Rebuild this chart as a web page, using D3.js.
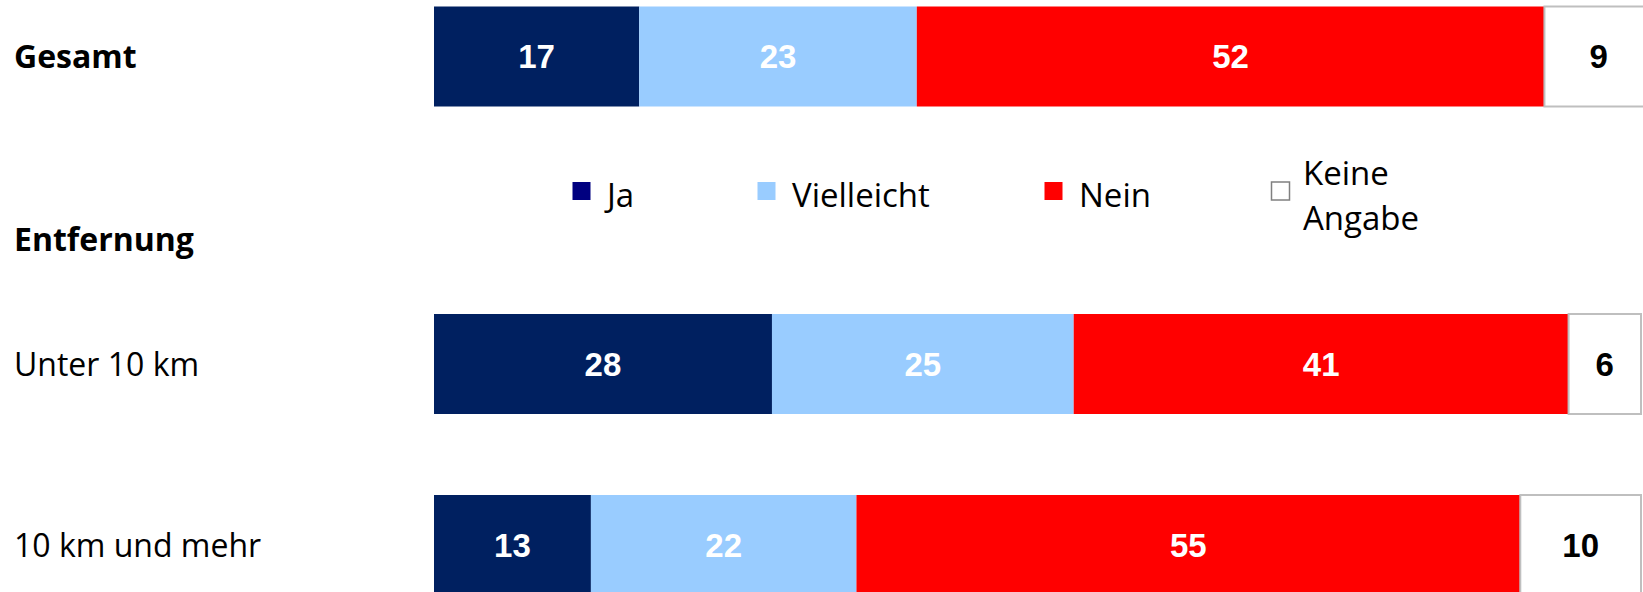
<!DOCTYPE html>
<html>
<head>
<meta charset="utf-8">
<script src="https://cdn.jsdelivr.net/npm/d3@7"></script>
<style>
  body { margin: 0; background: #fff; }
  svg { display: block; }
</style>
</head>
<body>
<div id="chart"></div>
<script>
// data
const rows = ["Gesamt", "Unter 10 km", "10 km und mehr"];
const series = ["Ja", "Vielleicht", "Nein", "Keine Angabe"];
const ja = [17, 28, 13];
const vielleicht = [23, 25, 22];
const nein = [52, 41, 55];
const keineAngabe = [9, 6, 10];
const groupHeader = "Entfernung";

/* layout */
const width = 1643, height = 592;
const barLeft = 434, barRight = 1641;
const barH = 100;
const rowCenters = [56.5, 364, 545];
const headerY = 251;
const legendX = [572, 757, 1044, 1271];
const legendY = 191;

const colors = ["#002060", "#99CCFF", "#FF0000", "#FFFFFF"];
const legendColors = ["#000080", "#99CCFF", "#FF0000", "#FFFFFF"];
const textColors = ["#fff", "#fff", "#fff", "#000"];

const table = rows.map((r, i) => ({
  row: r, Ja: ja[i], Vielleicht: vielleicht[i], Nein: nein[i], "Keine Angabe": keineAngabe[i]
}));
const stacked = d3.stack().keys(series)(table);

const x = d3.scaleLinear().domain([0, 100]).range([barLeft, barRight]);
const y = d3.scaleOrdinal().domain(rows).range(rowCenters);
const color = d3.scaleOrdinal().domain(series).range(colors);

const svg = d3.select("#chart").append("svg")
  .attr("width", width)
  .attr("height", height);

// row labels
svg.selectAll(".row-label")
  .data(rows)
  .join("text")
  .attr("class", "row-label")
  .attr("x", 14)
  .attr("y", d => y(d))
  .attr("dy", "0.36em")
  .attr("font-family", "'Open Sans', sans-serif")
  .attr("font-size", 32)
  .attr("font-weight", (d, i) => i === 0 ? "bold" : "normal")
  .attr("fill", "#000")
  .text(d => d);

svg.append("text")
  .attr("x", 14)
  .attr("y", headerY)
  .attr("font-family", "'Open Sans', sans-serif")
  .attr("font-size", 32)
  .attr("font-weight", "bold")
  .text(groupHeader);

// bars
const layer = svg.selectAll(".layer")
  .data(stacked)
  .join("g")
  .attr("class", "layer");

layer.selectAll("rect")
  .data(d => d.map(p => ({ key: d.key, p })))
  .join("rect")
  .attr("x", d => x(d.p[0]))
  .attr("y", d => y(d.p.data.row) - barH / 2)
  .attr("width", d => x(d.p[1]) - x(d.p[0]))
  .attr("height", barH)
  .attr("fill", d => color(d.key))
  .attr("stroke", d => d.key === "Keine Angabe" ? "#BFBFBF" : "none")
  .attr("stroke-width", 2);

layer.selectAll("text")
  .data(d => d.map(p => ({ key: d.key, p })))
  .join("text")
  .attr("x", d => (x(d.p[0]) + x(d.p[1])) / 2)
  .attr("y", d => y(d.p.data.row))
  .attr("dy", "0.36em")
  .attr("text-anchor", "middle")
  .attr("font-family", "'Liberation Sans', Arial, sans-serif")
  .attr("font-weight", "bold")
  .attr("font-size", 33)
  .attr("fill", d => textColors[series.indexOf(d.key)])
  .text(d => d.p[1] - d.p[0]);

// legend
const legend = svg.selectAll(".legend")
  .data(series)
  .join("g")
  .attr("class", "legend")
  .attr("transform", (d, i) => `translate(${legendX[i]},${legendY})`);

legend.append("rect")
  .attr("x", 0.5)
  .attr("y", -9)
  .attr("width", 18)
  .attr("height", 18)
  .attr("fill", (d, i) => legendColors[i])
  .attr("stroke", d => d === "Keine Angabe" ? "#808080" : "none")
  .attr("stroke-width", 1.5);

legend.append("text")
  .attr("x", (d, i) => i === 3 ? 32 : 35)
  .attr("font-family", "'Open Sans', sans-serif")
  .attr("font-size", 33)
  .attr("fill", "#000")
  .each(function (d) {
    const words = d.split(" ");
    const t = d3.select(this);
    if (words.length === 1) {
      t.attr("y", 16).text(d);
    } else {
      words.forEach((w, k) => {
        t.append("tspan")
          .attr("x", 32)
          .attr("y", -6 + k * 45)
          .text(w);
      });
    }
  });
</script>
</body>
</html>
